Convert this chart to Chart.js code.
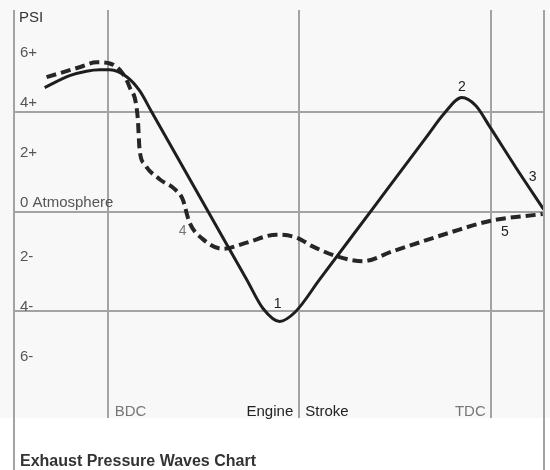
<!DOCTYPE html>
<html>
<head>
<meta charset="utf-8">
<script src="https://cdn.jsdelivr.net/npm/chart.js@4/dist/chart.umd.min.js"></script>
<style>
    body { margin: 0; background: #ffffff; }
    #wrap { width: 550px; height: 470px; }
</style>
</head>
<body>
<div id="wrap"><canvas id="pressureChart" width="550" height="470"></canvas></div>
<script>
// Engine stroke position (degrees) and pressure (PSI)
const solidStroke = [150.4, 162.1, 170.0, 176.2, 181.0, 188.9, 195.0, 200.7, 223.0, 245.3, 253.0, 260.8, 268.0, 279.6, 305.0, 329.9, 338.0, 346.4, 353.0, 359.5, 372.0, 384.9];
const solidPsi    = [4.98, 5.46, 5.64, 5.7, 5.7, 5.42, 4.86, 4.0, 0.63, -2.73, -3.9, -4.42, -4.05, -2.73, 0.17, 3.01, 3.93, 4.58, 4.25, 3.41, 1.74, 0.08];

const dashedStroke = [151.3, 166.8, 174.8, 181.0, 186.6, 190.3, 194.1, 195.0, 197.4, 204.4, 211.5, 215.2, 218.5, 224.6, 234.0, 245.3, 259.4, 268.8, 276.3, 287.6, 299.8, 313.9, 340.7, 359.5, 384.4];
const dashedPsi    = [5.4, 5.8, 6.0, 5.95, 5.6, 5.0, 3.8, 2.5, 1.9, 1.3, 0.9, 0.5, -0.45, -1.1, -1.5, -1.25, -0.93, -1.05, -1.4, -1.8, -2.0, -1.6, -0.85, -0.38, -0.1];

const yTickValues = [6, 4, 2, 0, -2, -4, -6];
const yTickLabels = ['6+', '4+', '2+', '0 Atmosphere', '2-', '4-', '6-'];
const yGridValues = [4, 0, -4];
const xGridValues = [180, 270, 360];

const curveNotes = [
    { text: '1', x: 259.9, y: -3.73 },
    { text: '2', x: 346.4, y: 5.0 },
    { text: '3', x: 379.7, y: 1.4 },
    { text: '4', x: 215.2, y: -0.8 },
    { text: '5', x: 366.6, y: -0.84 }
];

const FONT = '"Liberation Sans", Arial, sans-serif';

const toPoints = (xs, ys) => xs.map((x, i) => ({ x: x, y: ys[i] }));

// Background band, outer frame lines and all the printed labels
const decorPlugin = {
    id: 'decor',
    beforeDraw(chart) {
        const { ctx, chartArea } = chart;
        ctx.save();
        ctx.fillStyle = '#ffffff';
        ctx.fillRect(0, 0, chart.width, chart.height);
        ctx.fillStyle = '#f8f8f8';
        ctx.fillRect(0, 0, chart.width, chartArea.bottom);
        ctx.restore();
    },
    afterDatasetsDraw(chart) {
        const { ctx, chartArea, scales } = chart;
        const x = scales.x;
        const y = scales.y;
        ctx.save();

        // left and right frame lines run down past the plot
        ctx.strokeStyle = '#a3a3a3';
        ctx.lineWidth = 2;
        ctx.beginPath();
        ctx.moveTo(chartArea.left, chartArea.top);
        ctx.lineTo(chartArea.left, chart.height);
        ctx.moveTo(chartArea.right, chartArea.top);
        ctx.lineTo(chartArea.right, chart.height);
        ctx.stroke();

        ctx.textBaseline = 'middle';
        ctx.textAlign = 'left';

        ctx.fillStyle = '#333333';
        ctx.font = '15px ' + FONT;
        ctx.fillText('PSI', chartArea.left + 5, chartArea.top + 8);

        ctx.fillStyle = '#555555';
        ctx.font = '15px ' + FONT;
        yTickValues.forEach((v, i) => {
            const nudge = v >= 0 ? -9 : -4;
            ctx.fillText(yTickLabels[i], chartArea.left + 6, y.getPixelForValue(v) + nudge);
        });

        // stroke markers along the bottom
        const labelY = chartArea.bottom - 6;
        ctx.fillStyle = '#777777';
        ctx.fillText('BDC', x.getPixelForValue(180) + 7, labelY);
        ctx.textAlign = 'right';
        ctx.fillText('TDC', x.getPixelForValue(360) - 5, labelY);
        ctx.fillStyle = '#222222';
        ctx.fillText('Engine', x.getPixelForValue(270) - 6, labelY);
        ctx.textAlign = 'left';
        ctx.fillText('Stroke', x.getPixelForValue(270) + 6, labelY);

        // numbered points on the curves
        ctx.textAlign = 'center';
        ctx.font = '14px ' + FONT;
        curveNotes.forEach(n => {
            ctx.fillStyle = n.text === '4' ? '#777777' : '#222222';
            ctx.fillText(n.text, x.getPixelForValue(n.x), y.getPixelForValue(n.y));
        });

        ctx.textAlign = 'left';
        ctx.fillStyle = '#333333';
        ctx.font = 'bold 16px ' + FONT;
        ctx.fillText('Exhaust Pressure Waves Chart', chartArea.left + 6, chart.height - 8);
        ctx.restore();
    }
};

const ctx = document.getElementById('pressureChart').getContext('2d');
new Chart(ctx, {
    type: 'line',
    data: {
        datasets: [
            {
                label: 'Exhaust pressure',
                data: toPoints(solidStroke, solidPsi),
                borderColor: '#1e1e1e',
                borderWidth: 3,
                pointRadius: 0,
                cubicInterpolationMode: 'monotone'
            },
            {
                label: 'Tuned pressure',
                data: toPoints(dashedStroke, dashedPsi),
                borderColor: '#262626',
                borderWidth: 4,
                borderDash: [10, 5],
                pointRadius: 0,
                cubicInterpolationMode: 'monotone'
            }
        ]
    },
    options: {
        responsive: false,
        animation: false,
        layout: {
            padding: { left: 14, right: 6, top: 10, bottom: 52 }
        },
        scales: {
            x: {
                type: 'linear',
                min: 136,
                max: 385,
                afterBuildTicks: (scale) => {
                    scale.ticks = xGridValues.map(v => ({ value: v }));
                },
                grid: { color: '#a3a3a3', lineWidth: 2, drawTicks: false },
                border: { display: false },
                ticks: { display: false }
            },
            y: {
                min: -8.3,
                max: 8.1,
                afterBuildTicks: (scale) => {
                    scale.ticks = yGridValues.map(v => ({ value: v }));
                },
                grid: { color: '#a3a3a3', lineWidth: 2, drawTicks: false },
                border: { display: false },
                ticks: { display: false }
            }
        },
        plugins: {
            legend: { display: false },
            title: { display: false },
            tooltip: { enabled: false }
        }
    },
    plugins: [decorPlugin]
});
</script>
</body>
</html>
